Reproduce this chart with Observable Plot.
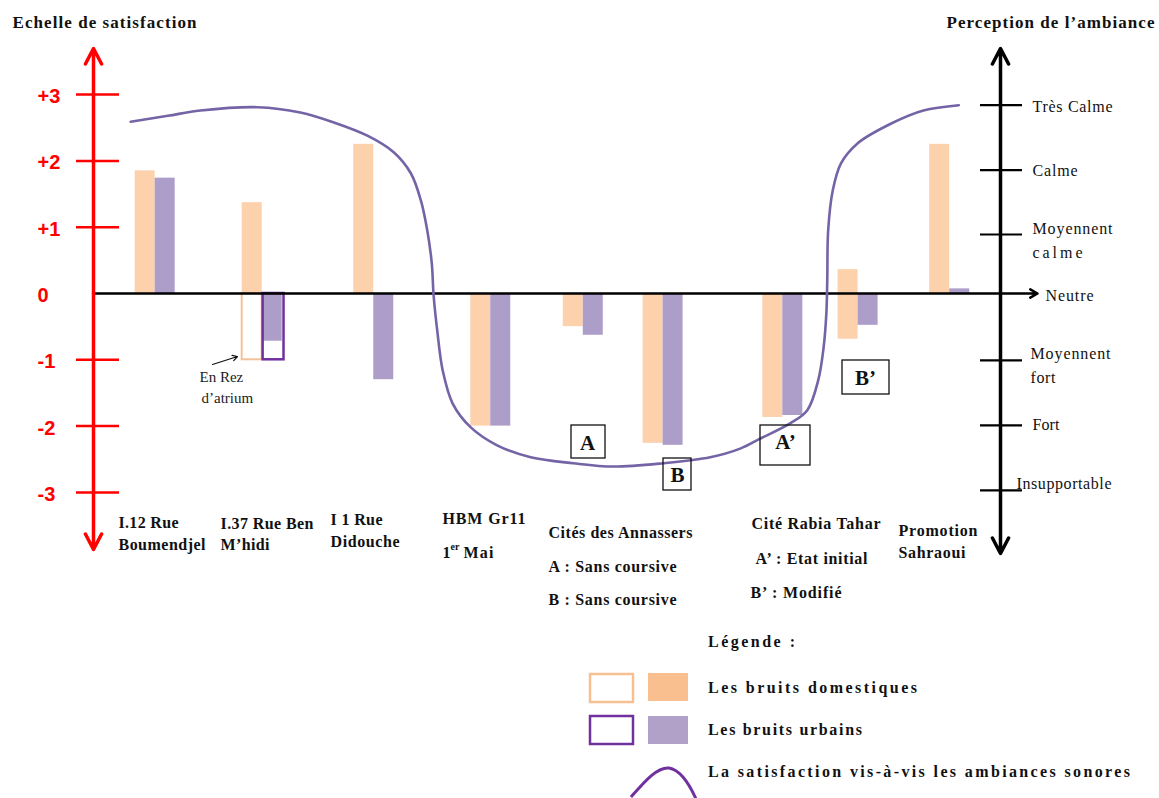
<!DOCTYPE html>
<html>
<head>
<meta charset="utf-8">
<script src="https://cdn.jsdelivr.net/npm/d3@7"></script>
<script src="https://cdn.jsdelivr.net/npm/@observablehq/plot@0.6"></script>
<style>
  body { margin: 0; background: #fff; }
  #chart { width: 1159px; height: 798px; position: relative; background: #fff; }
  #chart svg { display: block; }
</style>
</head>
<body>
<div id="chart"></div>
<script>
// ---------------- DATA ----------------
const sites = ["I.12 Rue Boumendjel", "I.37 Rue Ben M’hidi", "I 1 Rue Didouche", "HBM Gr11 1er Mai",
  "Cités des Annassers A", "Cités des Annassers B", "Cité Rabia Tahar A’", "Cité Rabia Tahar B’", "Promotion Sahraoui"];
// location of each site along the (schematic) horizontal axis, 0 = left axis, 10 = right axis
const siteX = [0.68, 1.86, 3.09, 4.38, 5.40, 6.28, 7.60, 8.43, 9.44];
// domestic noise (bruits domestiques): bar from low to high
const domesticHigh = [1.85, 1.37, 2.25, 0, 0, 0, 0, 0.36, 2.25];
const domesticLow  = [0, 0, 0, -2.0, -0.50, -2.26, -1.87, -0.69, 0];
// urban noise (bruits urbains)
const urbanHigh = [1.74, 0, 0, 0, 0, 0, 0, 0, 0.07];
const urbanLow  = [0, -0.72, -1.30, -2.0, -0.63, -2.29, -1.84, -0.48, 0];
// "En Rez d'atrium" (outlined bars) for I.37
const rezSite = [1];
const rezDomestic = [-1];
const rezUrban = [-1];
// satisfaction curve (la satisfaction vis-à-vis les ambiances sonores)
const satisfactionX = [0.41, 0.82, 1.18, 1.81, 2.28, 2.65, 3.02, 3.31, 3.50, 3.61, 3.68, 3.73, 3.75, 3.79, 3.85, 3.96, 4.16, 4.45, 4.82, 5.29, 5.73, 6.28, 6.80, 7.13, 7.35, 7.68, 7.87, 7.99, 8.05, 8.08, 8.09, 8.10, 8.15, 8.24, 8.42, 8.79, 9.15, 9.54];
const satisfactionY = [2.59, 2.68, 2.76, 2.81, 2.73, 2.58, 2.38, 2.13, 1.81, 1.40, 0.95, 0.45, -0.03, -0.56, -1.16, -1.66, -2.02, -2.29, -2.47, -2.56, -2.61, -2.56, -2.47, -2.34, -2.19, -1.96, -1.76, -1.31, -0.81, -0.30, 0.20, 0.95, 1.55, 1.96, 2.26, 2.56, 2.76, 2.84];
// left scale
const satisfactionTicks = [3, 2, 1, 0, -1, -2, -3];
const satisfactionTickLabels = ["+3", "+2", "+1", "0", "-1", "-2", "-3"];
// right scale
const perceptionTicks = [2.84, 1.86, 0.89, -1.01, -1.99, -2.97];
const perceptionLabels = ["Très Calme", "Calme", "Moyennent\ncalme", "Neutre", "Moyennent\nfort", "Fort", "Insupportable"];

// ---------------- LAYOUT ----------------
const W = 1159, H = 615;
const X0 = 93, X10 = 1000, Y0 = 293, PXU = 66.3;
const ux = px => (px - X0) / ((X10 - X0) / 10);
const uy = py => (Y0 - py) / PXU;
const yDomain = [-4, 3.75];
const marginTop = Y0 - yDomain[1] * PXU;
const marginBottom = H - (Y0 - yDomain[0] * PXU);
const bw = ux(X0 + 20);

const ORANGE = "#fcd1ab", PURPLE = "#ad9ec9", ORANGE_LINE = "#f4c29a", PURPLE_LINE = "#7030a0", CURVE = "#7464a6";
const SERIF = "Liberation Serif";
const idx = d3.range(sites.length);
const cidx = d3.range(satisfactionX.length);

const groupText = [
  {t: "I.12 Rue", px: 118, py: 522}, {t: "Boumendjel", px: 118, py: 544},
  {t: "I.37 Rue Ben", px: 220, py: 523}, {t: "M’hidi", px: 220, py: 544},
  {t: "I 1 Rue", px: 330, py: 519}, {t: "Didouche", px: 330, py: 541},
  {t: "HBM Gr11", px: 442, py: 518}, {t: "1", px: 442, py: 552}, {t: "Mai", px: 463, py: 552},
  {t: "Cités des Annassers", px: 548, py: 532}, {t: "A : Sans coursive", px: 548, py: 566}, {t: "B : Sans coursive", px: 548, py: 599},
  {t: "Cité Rabia Tahar", px: 751, py: 523}, {t: "A’ : Etat initial", px: 755, py: 558}, {t: "B’ : Modifié", px: 750, py: 592},
  {t: "Promotion", px: 898, py: 530}, {t: "Sahraoui", px: 898, py: 552}
];
const rightText = [
  {t: perceptionLabels[0], px: 1032, py: 104}, {t: perceptionLabels[1], px: 1032, py: 168},
  {t: perceptionLabels[2], px: 1032, py: 238}, {t: perceptionLabels[3], px: 1045, py: 293},
  {t: perceptionLabels[4], px: 1030, py: 363}, {t: perceptionLabels[5], px: 1032, py: 422},
  {t: perceptionLabels[6], px: 1016, py: 481}
];
const boxes = [
  {t: "A", x1: 571, x2: 605, y1: 425, y2: 458, tx: 587, ty: 443},
  {t: "B", x1: 663, x2: 691, y1: 458, y2: 490, tx: 677, ty: 475},
  {t: "A’", x1: 760, x2: 810, y1: 425, y2: 465, tx: 785, ty: 442},
  {t: "B’", x1: 842, x2: 889, y1: 360, y2: 394, tx: 865, ty: 378}
];

const svg = Plot.plot({
  width: W, height: H,
  marginLeft: X0, marginRight: W - X10, marginTop, marginBottom,
  x: {domain: [0, 10], axis: null},
  y: {domain: yDomain, axis: null},
  style: {background: "#fff"},
  marks: [
    // bars
    Plot.rect(idx, {x1: i => siteX[i] - bw, x2: i => siteX[i], y1: i => domesticLow[i], y2: i => domesticHigh[i], fill: ORANGE}),
    Plot.rect(idx, {x1: i => siteX[i], x2: i => siteX[i] + bw, y1: i => urbanLow[i], y2: i => urbanHigh[i], fill: PURPLE}),
    // outlined bars (En Rez d'atrium)
    Plot.rect(d3.range(rezSite.length), {x1: i => siteX[rezSite[i]] - bw, x2: i => siteX[rezSite[i]], y1: i => rezDomestic[i], y2: () => 0, fill: "none", stroke: ORANGE_LINE, strokeWidth: 2}),
    Plot.rect(d3.range(rezSite.length), {x1: i => siteX[rezSite[i]] + 0.01, x2: i => siteX[rezSite[i]] + bw + 0.02, y1: i => rezUrban[i], y2: () => 0, fill: "none", stroke: PURPLE_LINE, strokeWidth: 2.5}),
    // zero line with arrow
    Plot.arrow([0], {x1: () => 0, y1: () => 0, x2: () => ux(1037), y2: () => 0, stroke: "#000", strokeWidth: 2.5, headLength: 5, headAngle: 60}),
    // left axis (red)
    Plot.arrow([0], {x1: () => 0, y1: () => 0, x2: () => 0, y2: () => uy(48), stroke: "#ff0000", strokeWidth: 3.5, headLength: 7.5, headAngle: 55}),
    Plot.arrow([0], {x1: () => 0, y1: () => 0, x2: () => 0, y2: () => uy(549), stroke: "#ff0000", strokeWidth: 3.5, headLength: 7.5, headAngle: 55}),
    Plot.ruleY(satisfactionTicks.filter(d => d !== 0), {x1: () => ux(76), x2: () => ux(119), stroke: "#ff0000", strokeWidth: 2.5}),
    Plot.text(satisfactionTicks, {x: () => ux(37), y: d => d, dy: 2, text: (d, i) => satisfactionTickLabels[i], textAnchor: "start", fill: "#ff0000", fontWeight: "bold", fontSize: 20, fontFamily: "Liberation Sans"}),
    // right axis (black)
    Plot.arrow([0], {x1: () => 10, y1: () => 0, x2: () => 10, y2: () => uy(48), stroke: "#000", strokeWidth: 3.5, headLength: 7.5, headAngle: 55}),
    Plot.arrow([0], {x1: () => 10, y1: () => 0, x2: () => 10, y2: () => uy(553), stroke: "#000", strokeWidth: 3.5, headLength: 7.5, headAngle: 55}),
    Plot.ruleY(perceptionTicks, {x1: () => ux(980), x2: () => ux(1022), stroke: "#000", strokeWidth: 2.2}),
    Plot.text(rightText, {x: d => ux(d.px), y: d => uy(d.py), text: "t", textAnchor: "start", lineHeight: 1.45, fill: "#111", fontSize: 16, fontFamily: SERIF}),
    // satisfaction curve
    Plot.line(cidx, {x: i => satisfactionX[i], y: i => satisfactionY[i], curve: "catmull-rom", stroke: CURVE, strokeWidth: 2.6}),
    // boxes A, B, A', B'
    Plot.rect(boxes, {x1: d => ux(d.x1), x2: d => ux(d.x2), y1: d => uy(d.y1), y2: d => uy(d.y2), fill: "none", stroke: "#111", strokeWidth: 1.3}),
    Plot.text(boxes, {x: d => ux(d.tx), y: d => uy(d.ty), text: "t", fontWeight: "bold", fontSize: 21, fontFamily: SERIF, fill: "#111"}),
    // En Rez d'atrium
    Plot.arrow([0], {x1: () => ux(212), y1: () => uy(364), x2: () => ux(237), y2: () => uy(356), stroke: "#111", strokeWidth: 1.2, headLength: 7}),
    Plot.text([{t: "En Rez", px: 199, py: 377}, {t: "d’atrium", px: 201, py: 398}], {x: d => ux(d.px), y: d => uy(d.py), text: "t", textAnchor: "start", fontSize: 15, fontFamily: SERIF, fill: "#222"}),
    // group labels
    Plot.text(groupText, {x: d => ux(d.px), y: d => uy(d.py), text: "t", textAnchor: "start", fontWeight: "bold", fontSize: 16, fontFamily: SERIF, fill: "#111"}),
    Plot.text([{t: "er", px: 450, py: 546}], {x: d => ux(d.px), y: d => uy(d.py), text: "t", textAnchor: "start", fontWeight: "bold", fontSize: 10, fontFamily: SERIF, fill: "#111"}),
    // titles
    Plot.text([{t: "Echelle de satisfaction", px: 12, py: 22}, {t: "Perception de l’ambiance", px: 946, py: 22}], {x: d => ux(d.px), y: d => uy(d.py), text: "t", textAnchor: "start", fontWeight: "bold", fontSize: 17, fontFamily: SERIF, fill: "#111"})
  ]
});

const widths = {
  "Echelle de satisfaction": 184, "Perception de l’ambiance": 208,
  "I.12 Rue": 60, "Boumendjel": 87, "I.37 Rue Ben": 93, "M’hidi": 49, "I 1 Rue": 52, "Didouche": 69,
  "HBM Gr11": 83, "Mai": 30, "Cités des Annassers": 144, "A : Sans coursive": 128, "B : Sans coursive": 128,
  "Cité Rabia Tahar": 129, "A’ : Etat initial": 112, "B’ : Modifié": 91, "Promotion": 79, "Sahraoui": 67,
  "Très Calme": 80, "Calme": 45, "calme": 50, "Moyennent": 80, "fort": 25, "Fort": 27, "Insupportable": 95, "Neutre": 48
};
d3.select(svg).selectAll("text, tspan").each(function () {
  if (this.querySelector("tspan")) return;
  const w = widths[this.textContent];
  if (w) { this.setAttribute("textLength", w); this.setAttribute("lengthAdjust", "spacing"); }
});

// ---------------- LEGEND (below the plot) ----------------
const off = H;
const leg = d3.create("svg").attr("width", W).attr("height", 798 - H).style("display", "block").style("overflow", "hidden");
leg.append("rect").attr("x", 590).attr("y", 674 - off).attr("width", 43).attr("height", 28).attr("fill", "#fff").attr("stroke", "#f7c093").attr("stroke-width", 2.5);
leg.append("rect").attr("x", 648).attr("y", 673 - off).attr("width", 40).attr("height", 28).attr("fill", "#f9bf8e");
leg.append("rect").attr("x", 590).attr("y", 716 - off).attr("width", 43).attr("height", 28).attr("fill", "#fff").attr("stroke", PURPLE_LINE).attr("stroke-width", 2.5);
leg.append("rect").attr("x", 648).attr("y", 716 - off).attr("width", 40).attr("height", 28).attr("fill", "#b1a0c8");
leg.append("path")
  .attr("d", `M631,${797 - off} C645,${781 - off} 657,${767 - off} 669,${768 - off} C681,${770 - off} 691,${786 - off} 699,${806 - off}`)
  .attr("fill", "none").attr("stroke", PURPLE_LINE).attr("stroke-width", 3);
const legText = [
  {t: "Légende :", y: 641, w: 87},
  {t: "Les bruits domestiques", y: 687, w: 209},
  {t: "Les bruits urbains", y: 729, w: 154},
  {t: "La satisfaction vis-à-vis les ambiances sonores", y: 771, w: 422}
];
legText.forEach(d => {
  leg.append("text").attr("x", 708).attr("y", d.y - off).attr("dominant-baseline", "central")
    .attr("font-family", SERIF).attr("font-weight", "bold").attr("font-size", 16).attr("fill", "#111")
    .attr("textLength", d.w).attr("lengthAdjust", "spacing").text(d.t);
});

const chart = document.getElementById("chart");
chart.appendChild(svg);
chart.appendChild(leg.node());
</script>
</body>
</html>
